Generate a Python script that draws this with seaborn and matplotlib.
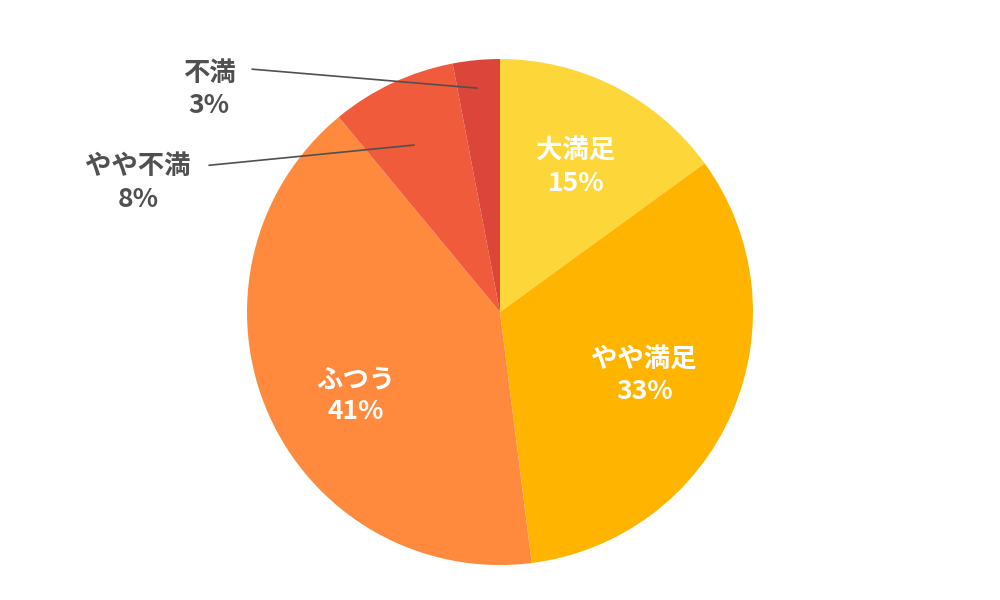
import matplotlib
matplotlib.use("Agg")
import matplotlib.pyplot as plt
import seaborn as sns

categories = ["大満足", "やや満足", "ふつう", "やや不満", "不満"]
values = [15, 33, 41, 8, 3]
colors = ["#FDD63A", "#FFB500", "#FF8A3E", "#EF5B3B", "#DC4539"]

sns.set_theme(style="white")
plt.rcParams['font.family'] = ['Noto Sans CJK JP', 'DejaVu Sans']

fig = plt.figure(figsize=(10, 6), dpi=100)
ax = fig.add_axes([0.5 - 0.253, 0.48 - 0.4217, 0.506, 0.8433])
ax.pie(values, colors=sns.color_palette(colors), startangle=90, counterclock=False,
       radius=1, wedgeprops=dict(linewidth=0))
ax.set_xlim(-1, 1); ax.set_ylim(-1, 1); ax.set_aspect('equal')
ax.axis('off')

inside = {0: (0.30, 0.57), 1: (0.57, -0.25), 2: (-0.57, -0.33)}
for i, (x, y) in inside.items():
    ax.text(x, y, f"{categories[i]}\n{values[i]}%", ha='center', va='center',
            color='white', fontsize=19, fontweight='bold', linespacing=1.25)

outside = {3: ((-1.43, 0.51), (-1.15, 0.58), (-0.34, 0.66)),
           4: ((-1.15, 0.88), (-0.98, 0.96), (-0.09, 0.885))}
for i, (t, a, b) in outside.items():
    ax.text(t[0], t[1], f"{categories[i]}\n{values[i]}%", ha='center', va='center',
            color='#505050', fontsize=19, fontweight='bold', linespacing=1.25, clip_on=False)
    ax.plot([a[0], b[0]], [a[1], b[1]], color='#505050', lw=1.2, clip_on=False)

fig.savefig("out.png", dpi=100, facecolor='white')
